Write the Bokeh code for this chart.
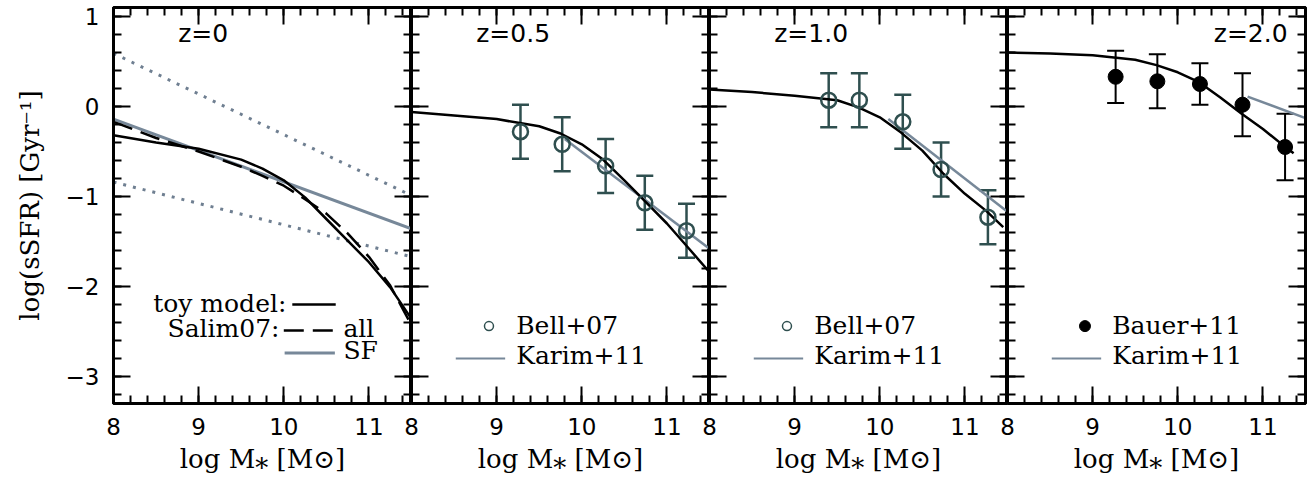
import numpy as np
from bokeh.plotting import figure
from bokeh.layouts import row
from bokeh.models import (LinearAxis, FixedTicker, Range1d, Whisker, TeeHead,
                          ColumnDataSource, Label)
from bokeh.embed import file_html
from bokeh.resources import INLINE

# ---------------- data: log sSFR [Gyr^-1] vs log stellar mass ----------------
# z = 0
toy_z0_x = [8.0, 8.5, 9.0, 9.5, 9.75, 10.0, 10.25, 10.5, 10.75, 11.0, 11.25, 11.5]
toy_z0_y = [-0.32, -0.40, -0.47, -0.59, -0.69, -0.82, -1.01, -1.25, -1.49, -1.73, -2.01, -2.36]
salim_all_x = [8.0, 8.5, 9.0, 9.5, 9.75, 10.0, 10.25, 10.5, 10.75, 11.0, 11.25, 11.5]
salim_all_y = [-0.17, -0.35, -0.50, -0.67, -0.77, -0.88, -1.03, -1.19, -1.41, -1.67, -1.99, -2.43]
salim_sf_x = [8.0, 11.5]
salim_sf_y = [-0.14, -1.36]
salim_sf_hi_y = [0.59, -0.99]
salim_sf_lo_y = [-0.84, -1.67]

# z = 0.5
toy_z05_x = [8.0, 8.5, 9.0, 9.5, 9.75, 10.0, 10.25, 10.5, 10.75, 11.0, 11.25, 11.5]
toy_z05_y = [-0.06, -0.10, -0.14, -0.22, -0.30, -0.42, -0.59, -0.82, -1.06, -1.30, -1.57, -1.84]
karim_z05_x = [9.8, 11.5]
karim_z05_y = [-0.36, -1.58]
bell_z05_x = [9.28, 9.77, 10.28, 10.74, 11.23]
bell_z05_y = [-0.28, -0.42, -0.66, -1.07, -1.38]
bell_z05_err = [0.30, 0.30, 0.30, 0.30, 0.30]

# z = 1.0
toy_z1_x = [8.0, 8.5, 9.0, 9.5, 9.75, 10.0, 10.25, 10.5, 10.75, 11.0, 11.25, 11.45]
toy_z1_y = [0.19, 0.16, 0.12, 0.07, -0.01, -0.12, -0.29, -0.49, -0.75, -0.97, -1.16, -1.34]
karim_z1_x = [10.1, 11.5]
karim_z1_y = [-0.14, -1.17]
bell_z1_x = [9.40, 9.76, 10.27, 10.72, 11.27]
bell_z1_y = [0.07, 0.07, -0.17, -0.70, -1.23]
bell_z1_err = [0.30, 0.30, 0.30, 0.30, 0.30]

# z = 2.0
toy_z2_x = [8.0, 8.5, 9.0, 9.5, 9.75, 10.0, 10.25, 10.5, 10.75, 11.0, 11.25, 11.36]
toy_z2_y = [0.60, 0.59, 0.57, 0.52, 0.46, 0.38, 0.27, 0.10, -0.08, -0.25, -0.44, -0.52]
karim_z2_x = [10.82, 11.5]
karim_z2_y = [0.11, -0.13]
bauer_x = [9.27, 9.76, 10.26, 10.76, 11.26]
bauer_y = [0.33, 0.28, 0.25, 0.02, -0.45]
bauer_err = [0.29, 0.30, 0.23, 0.35, 0.37]

panel_titles = ["z=0", "z=0.5", "z=1.0", "z=2.0"]
x_ticks = [8, 9, 10, 11]
y_ticks = [-3, -2, -1, 0, 1]
x_label = "log M\u204e [M\u2299]"
y_label = "log(sSFR) [Gyr\u207b\u00b9]"

# ---------------- styling ----------------
BLACK = "#000000"
GREY = "#778899"
DOTS = "#6f7f91"
TEAL = "#2f4f4f"
SANS = "DejaVu Sans"
SERIF = "DejaVu Serif"
X_RANGE = (8.0, 11.5)
Y_RANGE = (-3.3, 1.1)
FRAME_W, FRAME_H = 298, 396
OVERLAP = 14


def make_ticker(major, lo, hi):
    minor = list(np.round(np.arange(lo, hi + 1e-9, 0.2), 2))
    return FixedTicker(ticks=major, minor_ticks=minor)


def style_axis(ax, ticker, labels):
    ax.ticker = ticker
    ax.axis_line_width = 3
    ax.axis_line_color = BLACK
    ax.major_tick_in = 17
    ax.major_tick_out = 0
    ax.minor_tick_in = 8
    ax.minor_tick_out = 0
    ax.major_tick_line_width = 2
    ax.minor_tick_line_width = 2
    ax.major_tick_line_color = BLACK
    ax.minor_tick_line_color = BLACK
    if labels:
        ax.major_label_text_font = SANS
        ax.major_label_text_font_size = "23px"
        ax.major_label_text_color = BLACK
        ax.major_label_standoff = 14
    else:
        # tick marks only: labels take no room and are not painted
        ax.major_label_text_font_size = "1px"
        ax.major_label_text_color = None
        ax.major_label_standoff = 0


def make_panel(idx):
    first = idx == 0
    last = idx == 3
    p = figure(frame_width=FRAME_W, frame_height=FRAME_H,
               x_range=Range1d(*X_RANGE), y_range=Range1d(*Y_RANGE),
               output_backend="svg", toolbar_location=None,
               min_border_left=113 if first else OVERLAP,
               min_border_right=11 if last else 0,
               min_border_top=7, min_border_bottom=0,
               background_fill_color="white",
               border_fill_color="white" if first else None,
               outline_line_color=BLACK, outline_line_width=3)
    if not first:
        # let the panels share a frame edge; the "8" label spills left
        p.margin = (0, 0, 0, -OVERLAP)
    p.xgrid.visible = False
    p.ygrid.visible = False

    xt = make_ticker(x_ticks, 8.0, 11.4)
    yt = make_ticker(y_ticks, -3.2, 1.0)

    bottom = p.xaxis[0]
    style_axis(bottom, xt, True)
    bottom.axis_label = x_label
    bottom.axis_label_text_font = SERIF
    bottom.axis_label_text_font_style = "normal"
    bottom.axis_label_text_font_size = "26px"
    bottom.axis_label_text_color = BLACK
    bottom.axis_label_standoff = 6

    left = p.yaxis[0]
    style_axis(left, yt, first)
    if first:
        left.axis_label = y_label
        left.axis_label_text_font = SERIF
        left.axis_label_text_font_style = "normal"
        left.axis_label_text_font_size = "26px"
        left.axis_label_text_color = BLACK
        left.axis_label_standoff = 18

    top = LinearAxis()
    style_axis(top, make_ticker(x_ticks, 8.0, 11.4), False)
    p.add_layout(top, "above")
    right = LinearAxis()
    style_axis(right, make_ticker(y_ticks, -3.2, 1.0), False)
    p.add_layout(right, "right")
    return p


def errorbars(p, xs, ys, errs, color, width):
    src = ColumnDataSource(dict(x=xs, lo=[y - e for y, e in zip(ys, errs)],
                                hi=[y + e for y, e in zip(ys, errs)]))
    w = Whisker(base="x", lower="lo", upper="hi", source=src,
                line_color=color, line_width=width,
                lower_head=TeeHead(size=17, line_color=color, line_width=width),
                upper_head=TeeHead(size=17, line_color=color, line_width=width))
    p.add_layout(w)


def text(p, x, y, s, font=SERIF, size="25px", align="left"):
    p.add_layout(Label(x=x, y=y, text=s, text_font=font, text_font_size=size,
                       text_align=align, text_baseline="middle", text_color=BLACK))


panels = [make_panel(i) for i in range(4)]

# ---- z = 0 ----
p = panels[0]
p.line(salim_sf_x, salim_sf_hi_y, line_color=DOTS, line_width=3, line_dash="3 7")
p.line(salim_sf_x, salim_sf_lo_y, line_color=DOTS, line_width=3, line_dash="3 7")
p.line(salim_sf_x, salim_sf_y, line_color=GREY, line_width=3)
p.line(salim_all_x, salim_all_y, line_color=BLACK, line_width=2.5, line_dash="20 9")
p.line(toy_z0_x, toy_z0_y, line_color=BLACK, line_width=2.5)
text(p, 8.76, 0.81, panel_titles[0], font=SANS)
text(p, 10.03, -2.19, "toy model:", align="right")
p.line([10.10, 10.61], [-2.20, -2.20], line_color=BLACK, line_width=2.5)
text(p, 9.95, -2.47, "Salim07:", align="right")
p.line([10.00, 10.61], [-2.49, -2.49], line_color=BLACK, line_width=2.5, line_dash="20 9")
text(p, 10.70, -2.47, "all")
p.line([10.01, 10.60], [-2.74, -2.74], line_color=GREY, line_width=3)
text(p, 10.70, -2.71, "SF")

# ---- z = 0.5 and z = 1.0 ----
for p, tx, ty, kx, ky, bx, by, be, title in [
        (panels[1], toy_z05_x, toy_z05_y, karim_z05_x, karim_z05_y,
         bell_z05_x, bell_z05_y, bell_z05_err, panel_titles[1]),
        (panels[2], toy_z1_x, toy_z1_y, karim_z1_x, karim_z1_y,
         bell_z1_x, bell_z1_y, bell_z1_err, panel_titles[2])]:
    p.line(kx, ky, line_color=GREY, line_width=2.5)
    p.line(tx, ty, line_color=BLACK, line_width=2.5)
    errorbars(p, bx, by, be, TEAL, 2.5)
    p.scatter(bx, by, marker="circle", size=15, fill_color=None,
              line_color=TEAL, line_width=2.5)
    text(p, 8.76, 0.81, title, font=SANS)
    p.scatter([8.91], [-2.44], marker="circle", size=9, fill_color=None,
              line_color=TEAL, line_width=1.5)
    text(p, 9.23, -2.43, "Bell+07")
    p.line([8.52, 9.10], [-2.80, -2.80], line_color=GREY, line_width=2)
    text(p, 9.23, -2.77, "Karim+11")

# ---- z = 2.0 ----
p = panels[3]
p.line(karim_z2_x, karim_z2_y, line_color=GREY, line_width=2.5)
p.line(toy_z2_x, toy_z2_y, line_color=BLACK, line_width=2.5)
errorbars(p, bauer_x, bauer_y, bauer_err, BLACK, 2)
p.scatter(bauer_x, bauer_y, marker="circle", size=15, fill_color=BLACK,
          line_color=BLACK)
text(p, 11.29, 0.81, panel_titles[3], font=SANS, align="right")
p.scatter([8.91], [-2.44], marker="circle", size=11, fill_color=BLACK, line_color=BLACK)
text(p, 9.23, -2.43, "Bauer+11")
p.line([8.52, 9.10], [-2.80, -2.80], line_color=GREY, line_width=2)
text(p, 9.23, -2.77, "Karim+11")

layout = row(*panels, spacing=0)
open("out.html", "w").write(file_html(layout, INLINE))
